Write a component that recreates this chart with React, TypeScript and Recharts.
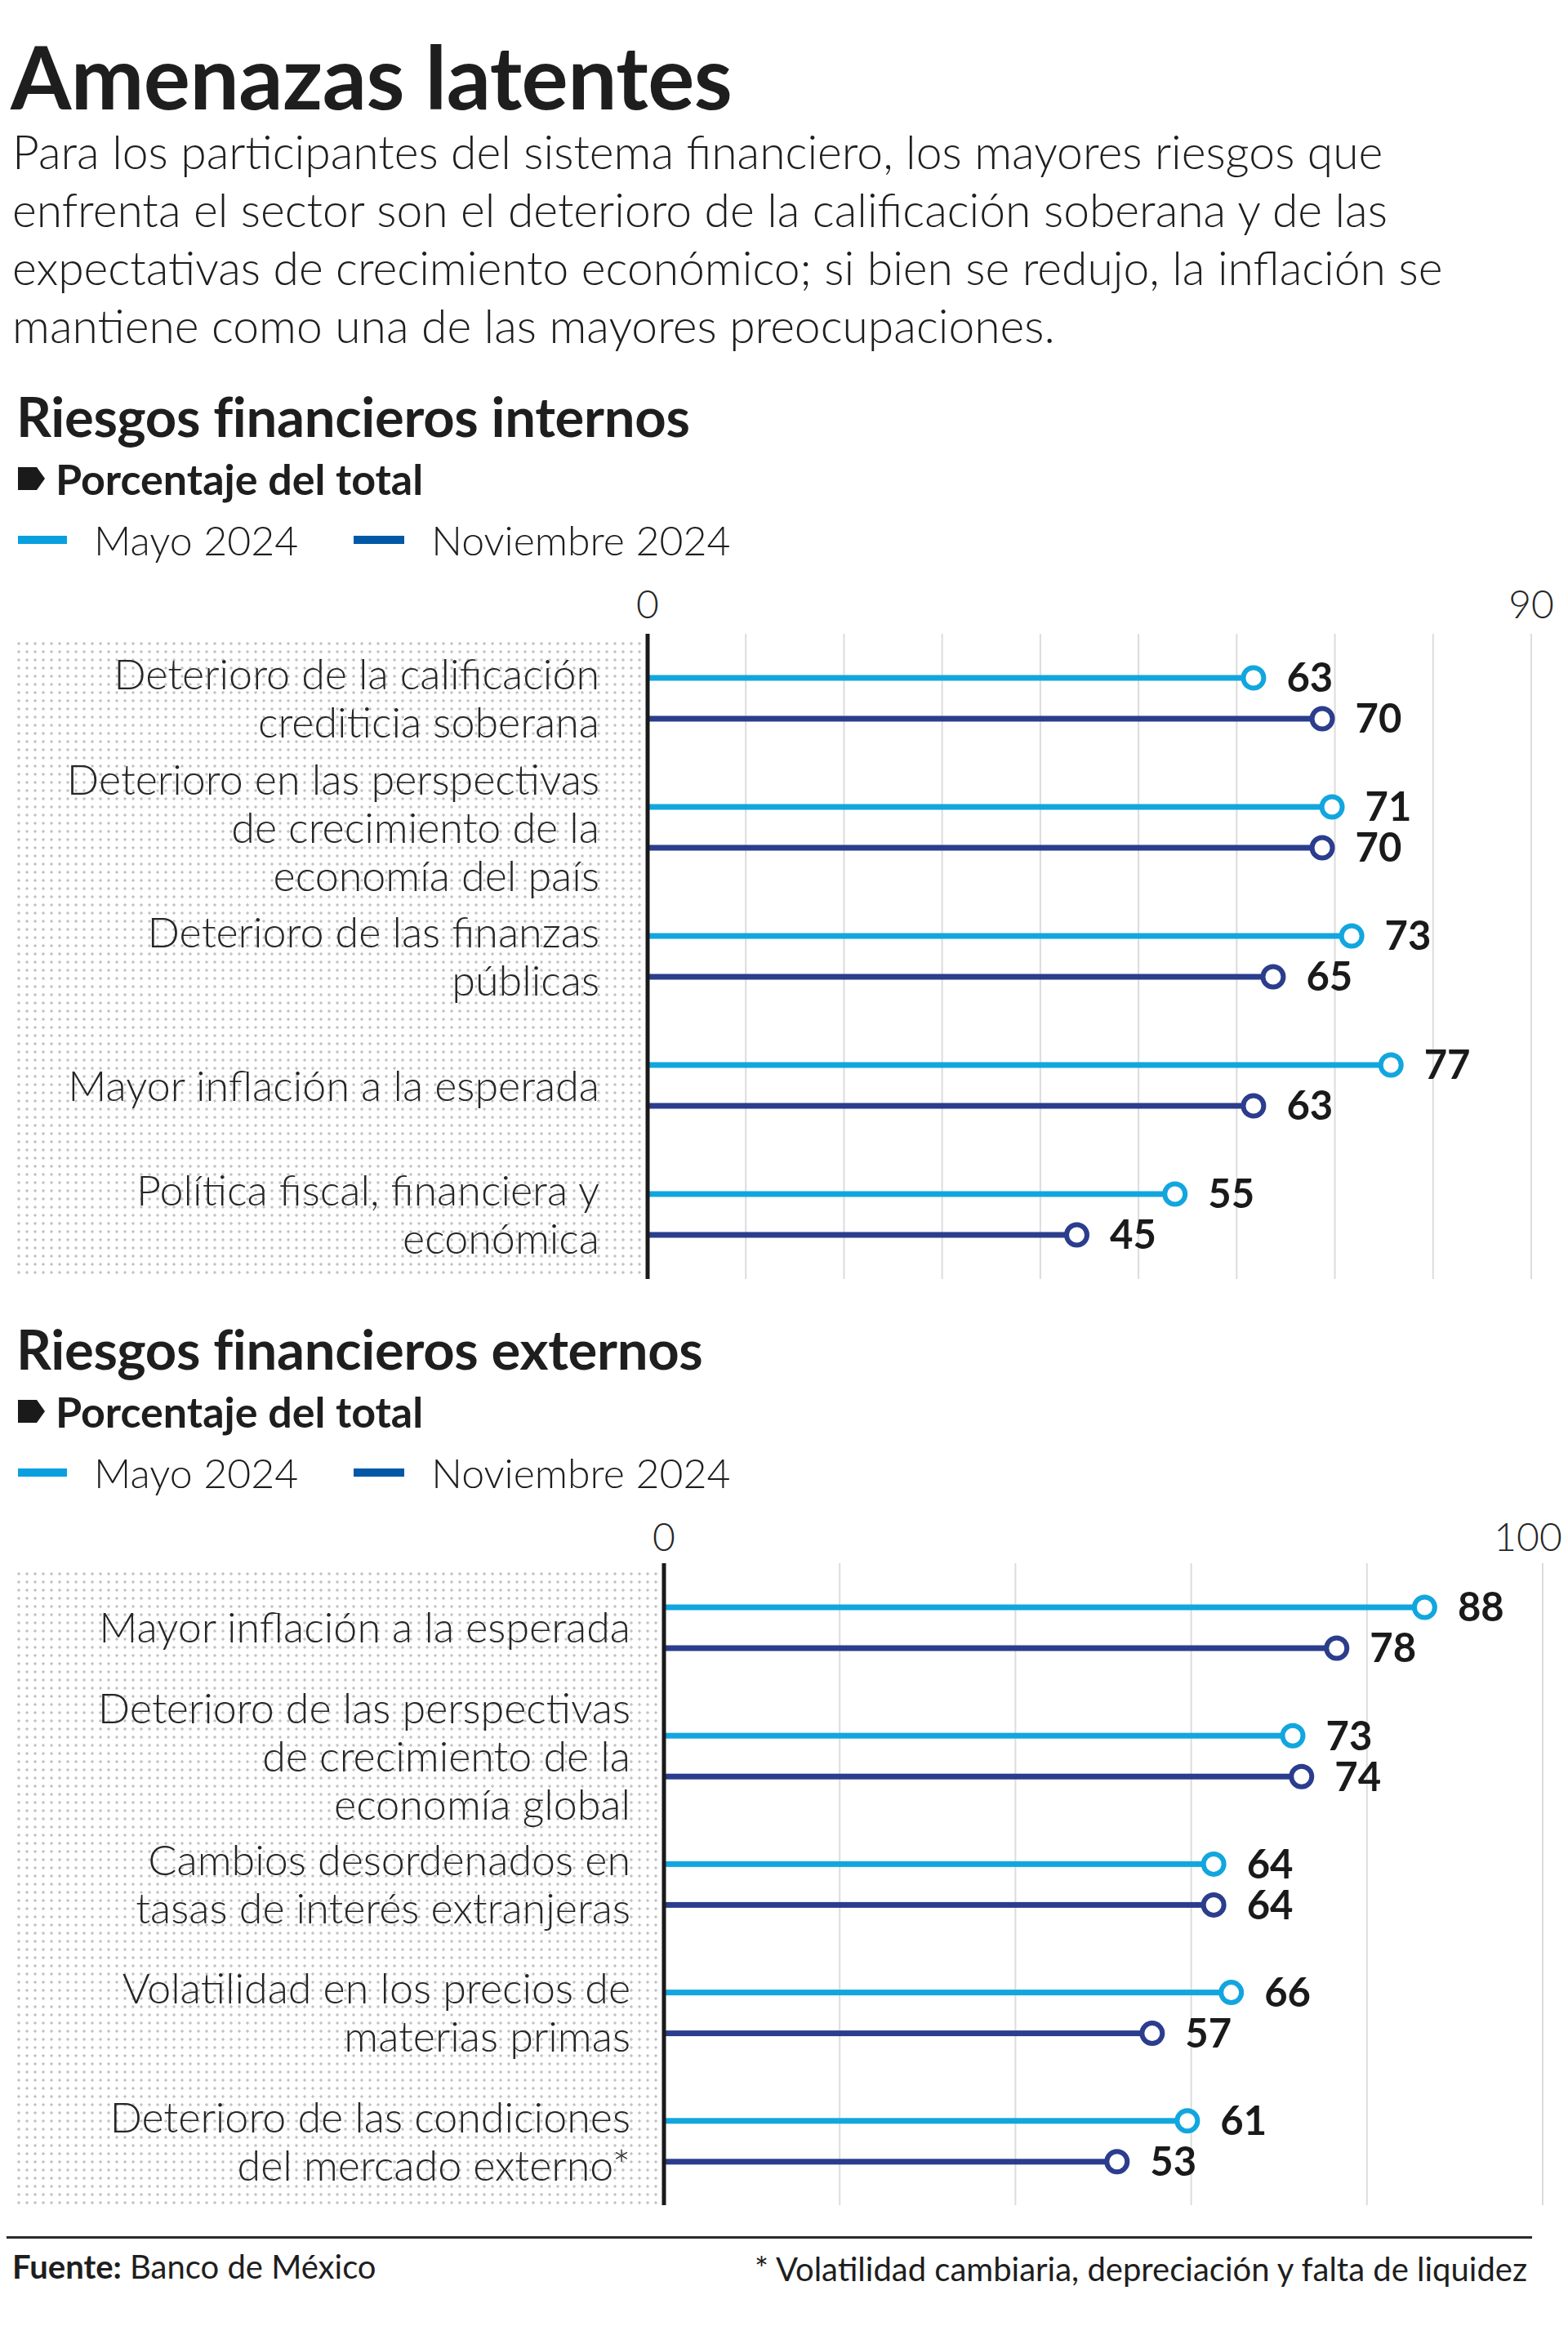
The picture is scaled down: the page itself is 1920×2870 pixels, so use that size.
import React from 'react';
import { BarChart, Bar, XAxis, YAxis, CartesianGrid, LabelList } from 'recharts';

// Riesgos financieros internos
const internalCategories = [
  'Deterioro de la calificación\ncrediticia soberana',
  'Deterioro en las perspectivas\nde crecimiento de la\neconomía del país',
  'Deterioro de las finanzas\npúblicas',
  'Mayor inflación a la esperada',
  'Política fiscal, financiera y\neconómica',
];
const internalMayo = [63, 71, 73, 77, 55];
const internalNoviembre = [70, 70, 65, 63, 45];
const internalTicks = [0, 10, 20, 30, 40, 50, 60, 70, 80, 90];
const internalTickLabels = [0, 90];

// Riesgos financieros externos
const externalCategories = [
  'Mayor inflación a la esperada',
  'Deterioro de las perspectivas\nde crecimiento de la\neconomía global',
  'Cambios desordenados en\ntasas de interés extranjeras',
  'Volatilidad en los precios de\nmaterias primas',
  'Deterioro de las condiciones\ndel mercado externo*',
];
const externalMayo = [88, 73, 64, 66, 61];
const externalNoviembre = [78, 74, 64, 57, 53];
const externalTicks = [0, 20, 40, 60, 80, 100];
const externalTickLabels = [0, 100];

const seriesNames = ['Mayo 2024', 'Noviembre 2024'];

const MAYO = '#12a6de';
const NOV = '#2b3d8c';
const LEGEND_MAYO = '#0aa0e0';
const LEGEND_NOV = '#0058a6';
const FONT = 'Lato, "Open Sans", sans-serif';
const TEXT = '#1e1e1e';

const internalData = internalCategories.map((name, i) => ({
  name,
  mayo: internalMayo[i],
  noviembre: internalNoviembre[i],
}));
const externalData = externalCategories.map((name, i) => ({
  name,
  mayo: externalMayo[i],
  noviembre: externalNoviembre[i],
}));

// bar + hollow circle whose outer edge sits on the value
const Lollipop = (props: any) => {
  const { x, y, width, height, fill } = props;
  if (width == null || width <= 0) return null;
  const cy = y + height / 2;
  const r = 12.5;
  const sw = 6;
  const end = x + width;
  const cx = end - r - sw / 2;
  return (
    <g>
      <rect x={x} y={cy - 3.5} width={Math.max(0, cx - x)} height={7} fill={fill} />
      <circle cx={cx} cy={cy} r={r} fill="#fff" stroke={fill} strokeWidth={sw} />
    </g>
  );
};

const CategoryTick = (props: any) => {
  const { x, y, payload, gap } = props;
  const lines = String(payload.value).split('\n');
  const lh = 59;
  const start = y - ((lines.length - 1) * lh) / 2;
  return (
    <text
      x={x - gap}
      y={start}
      textAnchor="end"
      fontFamily={FONT}
      fontSize={52}
      fontWeight={300}
      fill="#262626"
    >
      {lines.map((l, i) => (
        <tspan key={i} x={x - gap} dy={i === 0 ? '0.36em' : lh}>
          {l}
        </tspan>
      ))}
    </text>
  );
};

const ValueTick = (props: any) => {
  const { x, y, payload, shown, lift, lastShift } = props;
  if (!shown.includes(payload.value)) return null;
  const isLast = payload.value === shown[shown.length - 1];
  return (
    <text
      x={isLast ? x - lastShift : x}
      y={y - lift}
      textAnchor="middle"
      dy="0.36em"
      fontFamily={FONT}
      fontSize={48}
      fontWeight={300}
      fill="#262626"
    >
      {payload.value}
    </text>
  );
};

const SectionHeader = ({ title, top }: { title: string; top: number }) => (
  <>
    <div
      style={{
        position: 'absolute',
        left: 20,
        top,
        fontSize: 67,
        fontWeight: 700,
        lineHeight: '70px',
        color: TEXT,
        letterSpacing: -0.3,
      }}
    >
      {title}
    </div>
    <div style={{ position: 'absolute', left: 22, top: top + 82, display: 'flex', alignItems: 'center' }}>
      <svg width={34} height={30} style={{ marginRight: 12 }}>
        <polygon points="0,1 23,1 33,15 23,29 0,29" fill="#1a1a1a" />
      </svg>
      <span style={{ fontSize: 52, fontWeight: 700, color: TEXT, lineHeight: '60px' }}>Porcentaje del total</span>
    </div>
    <div style={{ position: 'absolute', left: 22, top: top + 157, display: 'flex', alignItems: 'center', height: 60 }}>
      <div style={{ width: 60, height: 10, background: LEGEND_MAYO, marginRight: 33 }} />
      <span style={{ fontSize: 50, fontWeight: 300, color: TEXT, marginRight: 68 }}>{seriesNames[0]}</span>
      <div style={{ width: 62, height: 10, background: LEGEND_NOV, marginRight: 33 }} />
      <span style={{ fontSize: 50, fontWeight: 300, color: TEXT }}>{seriesNames[1]}</span>
    </div>
  </>
);

const Dots = ({ left, top, width, height }: { left: number; top: number; width: number; height: number }) => (
  <div
    style={{
      position: 'absolute',
      left,
      top,
      width,
      height,
      backgroundImage: 'radial-gradient(circle, #c2c2c2 1.4px, transparent 1.9px)',
      backgroundSize: '10px 10px',
    }}
  />
);

type LollipopChartProps = {
  data: { name: string; mayo: number; noviembre: number }[];
  top: number;
  height: number;
  axisWidth: number;
  rightMargin: number;
  max: number;
  ticks: number[];
  tickLabels: number[];
  labelGap: number;
  tickLift: number;
  lastShift: number;
};

const valueLabelProps = {
  position: 'right' as const,
  offset: 25,
  fill: '#1a1a1a',
  fontSize: 49,
  fontWeight: 700,
  fontFamily: FONT,
};

const LollipopChart = ({
  data,
  top,
  height,
  axisWidth,
  rightMargin,
  max,
  ticks,
  tickLabels,
  labelGap,
  tickLift,
  lastShift,
}: LollipopChartProps) => (
  <div style={{ position: 'absolute', left: 0, top }}>
    <BarChart
      width={1920}
      height={height}
      data={data}
      layout="vertical"
      margin={{ top: 0, right: rightMargin, bottom: 0, left: 0 }}
      barSize={8}
      barGap={42}
    >
      <CartesianGrid horizontal={false} stroke="#dcdcdc" strokeWidth={2} />
      <XAxis
        type="number"
        orientation="top"
        domain={[0, max]}
        ticks={ticks}
        interval={0}
        height={76}
        axisLine={false}
        tickLine={false}
        tickSize={0}
        tickMargin={0}
        tick={(p: any) => <ValueTick {...p} shown={tickLabels} lift={tickLift} lastShift={lastShift} />}
      />
      <YAxis
        type="category"
        dataKey="name"
        width={axisWidth}
        axisLine={{ stroke: '#1a1a1a', strokeWidth: 5 }}
        tickLine={false}
        tickSize={0}
        tickMargin={0}
        interval={0}
        tick={(p: any) => <CategoryTick {...p} gap={labelGap} />}
      />
      <Bar dataKey="mayo" fill={MAYO} shape={<Lollipop />} isAnimationActive={false}>
        <LabelList dataKey="mayo" {...valueLabelProps} />
      </Bar>
      <Bar dataKey="noviembre" fill={NOV} shape={<Lollipop />} isAnimationActive={false}>
        <LabelList dataKey="noviembre" {...valueLabelProps} />
      </Bar>
    </BarChart>
  </div>
);

export default function App() {
  return (
    <div
      style={{
        position: 'relative',
        width: 1920,
        height: 2870,
        background: '#fff',
        fontFamily: FONT,
        color: TEXT,
        overflow: 'hidden',
      }}
    >
      <style>{'body{margin:0;}'}</style>
      <div
        style={{
          position: 'absolute',
          left: 13,
          top: 38,
          fontSize: 107,
          fontWeight: 700,
          lineHeight: '110px',
          letterSpacing: -0.5,
        }}
      >
        Amenazas latentes
      </div>
      <div
        style={{
          position: 'absolute',
          left: 15,
          top: 150,
          fontSize: 57,
          fontWeight: 300,
          lineHeight: '71px',
          whiteSpace: 'pre',
        }}
      >
        {'Para los participantes del sistema financiero, los mayores riesgos que\nenfrenta el sector son el deterioro de la calificación soberana y de las\nexpectativas de crecimiento económico; si bien se redujo, la inflación se\nmantiene como una de las mayores preocupaciones.'}
      </div>

      <SectionHeader title="Riesgos financieros internos" top={474} />
      <Dots left={18} top={783} width={772} height={782} />
      <LollipopChart
        data={internalData}
        top={700}
        height={866}
        axisWidth={793}
        rightMargin={45}
        max={90}
        ticks={internalTicks}
        tickLabels={internalTickLabels}
        labelGap={59}
        tickLift={36}
        lastShift={0}
      />

      <SectionHeader title="Riesgos financieros externos" top={1616} />
      <Dots left={18} top={1922} width={788} height={778} />
      <LollipopChart
        data={externalData}
        top={1838}
        height={862}
        axisWidth={813}
        rightMargin={31}
        max={100}
        ticks={externalTicks}
        tickLabels={externalTickLabels}
        labelGap={41}
        tickLift={32}
        lastShift={18}
      />

      <div style={{ position: 'absolute', left: 8, top: 2738, width: 1868, height: 3, background: '#2b2b2b' }} />
      <div style={{ position: 'absolute', left: 15, top: 2752, fontSize: 40, lineHeight: '46px' }}>
        <span style={{ fontWeight: 700 }}>Fuente:</span> Banco de México
      </div>
      <div style={{ position: 'absolute', right: 50, top: 2755, fontSize: 40, lineHeight: '46px' }}>
        * Volatilidad cambiaria, depreciación y falta de liquidez
      </div>
    </div>
  );
}
